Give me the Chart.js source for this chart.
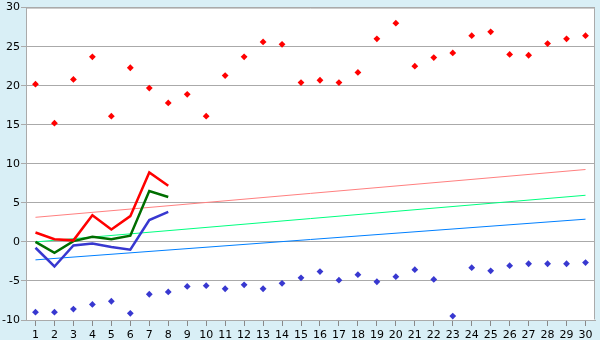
<!DOCTYPE html>
<html>
<head>
<meta charset="utf-8">
<script src="https://cdn.jsdelivr.net/npm/chart.js@4/dist/chart.umd.min.js"></script>
<style>
  html, body { margin: 0; padding: 0; background: #d9eff6; }
  #wrap { width: 600px; height: 340px; }
</style>
</head>
<body>
<div id="wrap"><canvas id="c" width="600" height="340"></canvas></div>
<script>
const days = ['1','2','3','4','5','6','7','8','9','10','11','12','13','14','15','16','17','18','19','20','21','22','23','24','25','26','27','28','29','30'];
const yTicks = [-10, -5, 0, 5, 10, 15, 20, 25, 30];

const maxPoints = [20.2, 15.2, 20.8, 23.7, 16.1, 22.3, 19.7, 17.8, 18.9, 16.1, 21.3, 23.7, 25.6, 25.3, 20.4, 20.7, 20.4, 21.7, 26.0, 28.0, 22.5, 23.6, 24.2, 26.4, 26.9, 24.0, 23.9, 25.4, 26.0, 26.4];
const minPoints = [-9.0, -9.0, -8.6, -8.0, -7.6, -9.15, -6.7, -6.4, -5.7, -5.6, -6.0, -5.5, -6.0, -5.3, -4.6, -3.8, -4.9, -4.2, -5.1, -4.45, -3.55, -4.8, -9.5, -3.3, -3.7, -3.05, -2.8, -2.8, -2.8, -2.65];

const redLine   = [1.2, 0.35, 0.2, 3.4, 1.6, 3.3, 8.9, 7.2];
const greenLine = [0.0, -1.4, 0.1, 0.65, 0.35, 0.8, 6.5, 5.75];
const blueLine  = [-0.75, -3.15, -0.45, -0.2, -0.65, -1.0, 2.8, 3.85];

const trendRed   = [3.15, 9.27];
const trendGreen = [0.0, 5.97];
const trendBlue  = [-2.3, 2.91];

function trend(vals) {
  return [{x: days[0], y: vals[0]}, {x: days[days.length - 1], y: vals[1]}];
}

const bgPlugin = {
  id: 'bg',
  beforeDraw(chart) {
    const ctx = chart.ctx, a = chart.chartArea;
    ctx.save();
    ctx.fillStyle = '#d9eff6';
    ctx.fillRect(0, 0, chart.width, chart.height);
    ctx.fillStyle = '#ffffff';
    ctx.fillRect(a.left, a.top, a.right - a.left, a.bottom - a.top);
    ctx.restore();
  },
  afterDraw(chart) {
    const ctx = chart.ctx, a = chart.chartArea;
    ctx.save();
    ctx.strokeStyle = '#aaaaaa';
    ctx.lineWidth = 1;
    ctx.beginPath();
    ctx.moveTo(a.left + 0.5, a.top + 0.5);
    ctx.lineTo(a.right - 0.5, a.top + 0.5);
    ctx.lineTo(a.right - 0.5, a.bottom - 0.5);
    ctx.stroke();
    ctx.restore();
  }
};

const lineDs = (data, color, w) => ({
  type: 'line', data, borderColor: color, backgroundColor: color,
  borderWidth: w, pointRadius: 0, tension: 0, fill: false
});
const pointDs = (data, color) => ({
  type: 'line', data, showLine: false, borderColor: color, backgroundColor: color,
  pointStyle: 'rectRot', pointRadius: 3.4, pointBorderWidth: 0
});

new Chart(document.getElementById('c'), {
  type: 'line',
  data: {
    labels: days,
    datasets: [
      lineDs(redLine, '#ff0000', 2.5),
      lineDs(greenLine, '#006e00', 2.5),
      lineDs(blueLine, '#3838d0', 2.5),
      lineDs(trend(trendRed), '#ff8080', 1),
      lineDs(trend(trendGreen), '#00ff80', 1),
      lineDs(trend(trendBlue), '#0080ff', 1),
      pointDs(maxPoints, '#ff0000'),
      pointDs(minPoints, '#3838d0')
    ]
  },
  options: {
    responsive: false,
    animation: false,
    devicePixelRatio: 1,
    layout: { padding: { top: 5, right: 5, left: 0, bottom: 0 } },
    plugins: { legend: { display: false }, tooltip: { enabled: false } },
    scales: {
      x: {
        type: 'category',
        offset: true,
        grid: { display: true, drawOnChartArea: false, drawTicks: true, tickLength: 6, offset: false, color: '#888888' },
        border: { display: true, color: '#aaaaaa' },
        ticks: { color: '#000000', font: { family: 'DejaVu Sans', size: 11 }, padding: 3, maxRotation: 0, autoSkip: false },
        afterFit(s) { s.height = 20; }
      },
      y: {
        min: -10, max: 30,
        afterBuildTicks(s) { s.ticks = yTicks.map(v => ({ value: v })); },
        grid: { color: '#aaaaaa', tickLength: 5, drawTicks: true },
        border: { display: true, color: '#aaaaaa' },
        ticks: { color: '#000000', font: { family: 'DejaVu Sans', size: 11 }, padding: 1 },
        afterFit(s) { s.width = 26; }
      }
    }
  },
  plugins: [bgPlugin]
});
</script>
</body>
</html>
